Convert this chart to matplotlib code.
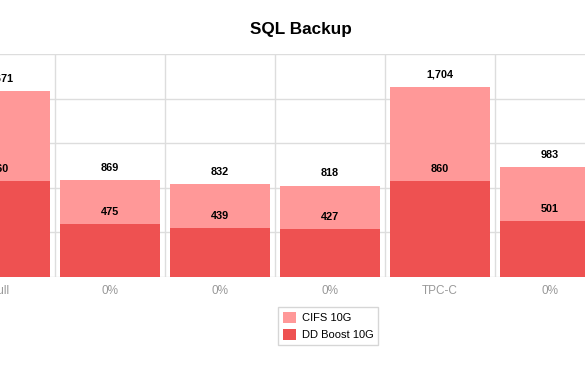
import numpy as np
import matplotlib.pyplot as plt

plt.rcParams["font.family"] = ["Liberation Sans", "DejaVu Sans"]

categories = ["Full", "0%", "0%", "0%", "TPC-C", "0%"]
cifs_10g = [1671, 869, 832, 818, 1704, 983]
ddboost_10g = [860, 475, 439, 427, 860, 501]

cifs_color = "#ff9898"
dd_color = "#ee5151"
grid_color = "#dddddd"

fig = plt.figure(figsize=(5.85, 3.76), dpi=100)
ax = fig.add_axes([0, 0.2633, 1, 0.5931])

x = np.arange(len(categories))
step = 110.65  # pixels per category
width = 100.65 / step

ax.bar(x, cifs_10g, width, color=cifs_color, label="CIFS 10G", zorder=2)
ax.bar(x, ddboost_10g, width, color=dd_color, label="DD Boost 10G", zorder=3)

for series in (cifs_10g, ddboost_10g):
    for xi, v in zip(x, series):
        ax.annotate(f"{v:,}", (xi, v), xytext=(0, 9), textcoords="offset points",
                    ha="center", va="center", fontsize=7.8, fontweight="bold",
                    zorder=5)

ax.set_xlim(3.6 / step, (585 + 3.6) / step)
ax.set_ylim(0, 2000)
ax.set_yticks(np.arange(0, 2001, 400))
ax.yaxis.grid(True, color=grid_color, linewidth=1, zorder=0)
ax.set_axisbelow(True)
for b in x[:-1] + 0.5:
    ax.axvline(b, color=grid_color, linewidth=1, zorder=1)

ax.set_xticks(x)
ax.set_xticklabels(categories, color="#999999", fontsize=8.5)
ax.tick_params(axis="x", length=0, pad=6)
ax.tick_params(axis="y", length=0, labelleft=False)
for s in ax.spines.values():
    s.set_visible(False)

fig.text(0.5145, 0.9215, "SQL Backup", ha="center", va="center",
         fontsize=12.3, fontweight="bold")

leg = fig.legend(loc="upper left", bbox_to_anchor=(278.3 / 585, 1 - 307.3 / 376),
                 fontsize=8, frameon=True, fancybox=False,
                 handlelength=1.2, handleheight=1.2, handletextpad=0.55,
                 borderpad=0.4, labelspacing=0.5, borderaxespad=0)
leg.get_frame().set_edgecolor("#cccccc")
leg.get_frame().set_linewidth(1)

fig.savefig("out.png", dpi=100)
